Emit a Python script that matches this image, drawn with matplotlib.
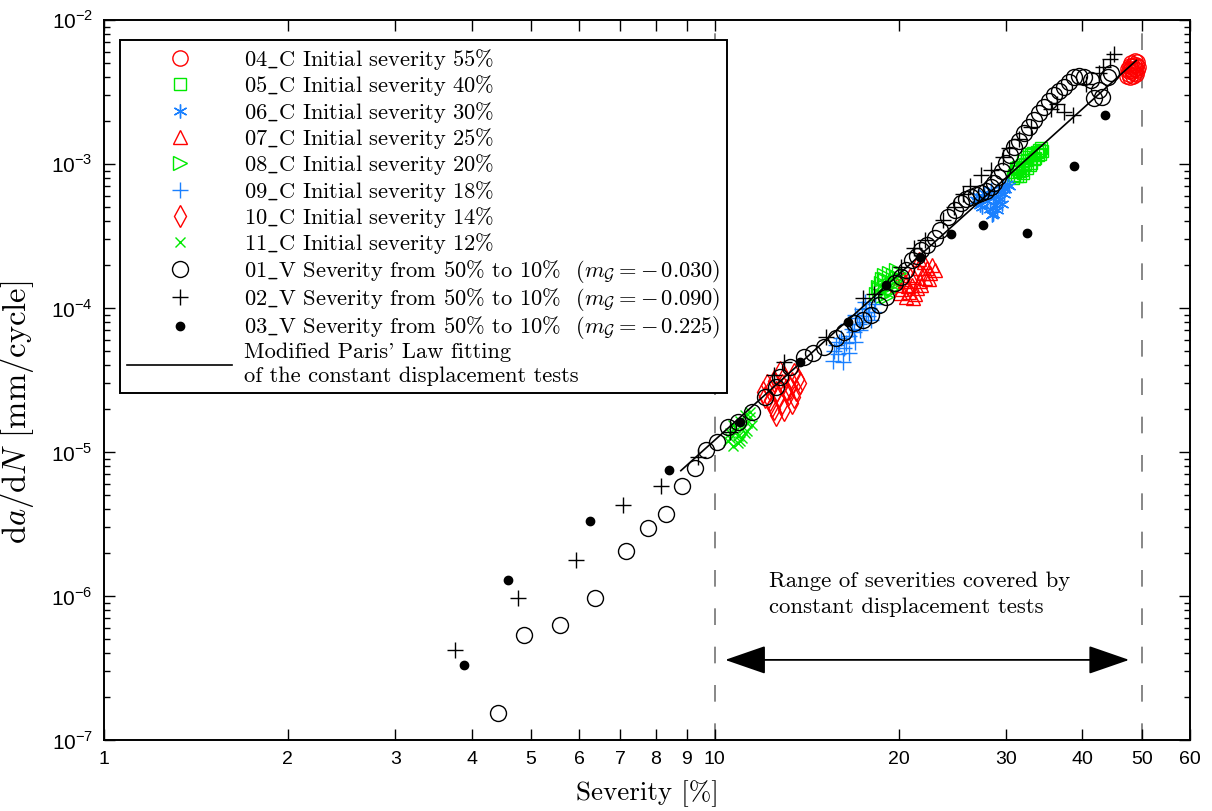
import numpy as np
import matplotlib.pyplot as plt
from matplotlib.ticker import FixedLocator, LogLocator, NullFormatter, NullLocator

plt.rcParams['font.family'] = 'cmr10'
plt.rcParams['mathtext.fontset'] = 'cm'
plt.rcParams['mathtext.rm'] = 'Liberation Sans'
plt.rcParams['axes.formatter.use_mathtext'] = True

# ---- constant displacement tests (severity %, da/dN mm/cycle) ----
c04_x = [47.3, 47.6, 47.9, 48.1, 48.3, 48.5, 48.6, 48.8, 49.0, 49.1, 47.8, 48.4, 48.9, 47.5,
         48.2, 49.2, 48.7, 47.7, 48.0, 49.3]
c04_y = [4.1e-3, 4.4e-3, 4.0e-3, 4.6e-3, 4.8e-3, 4.3e-3, 4.9e-3, 4.6e-3, 4.9e-3, 4.5e-3,
         4.8e-3, 4.1e-3, 4.2e-3, 4.6e-3, 4.4e-3, 5.1e-3, 5.2e-3, 4.2e-3, 5.0e-3, 4.7e-3]

c05_x = [30.8, 31.2, 31.6, 31.0, 31.5, 32.0, 31.4, 31.9, 32.4, 32.0, 32.5, 33.0, 32.5, 33.0,
         33.5, 33.2, 33.7, 34.1, 33.9, 34.3, 30.9, 31.3, 31.8, 32.2, 32.8, 33.3, 33.8, 34.2,
         31.1, 32.7]
c05_y = [8.0e-4, 8.3e-4, 8.2e-4, 8.8e-4, 9.0e-4, 8.7e-4, 9.6e-4, 9.8e-4, 9.4e-4, 1.05e-3,
         1.07e-3, 1.02e-3, 1.12e-3, 1.15e-3, 1.10e-3, 1.20e-3, 1.22e-3, 1.18e-3, 1.26e-3, 1.24e-3,
         8.4e-4, 9.2e-4, 9.1e-4, 1.0e-3, 9.9e-4, 1.08e-3, 1.16e-3, 1.30e-3, 9.4e-4, 1.18e-3]

c06_x = [26.8, 27.2, 27.5, 27.9, 28.2, 28.0, 28.5, 28.8, 28.6, 29.1, 29.3, 29.0, 29.6, 29.8,
         30.1, 29.5, 28.3, 27.6, 27.0, 27.4, 28.9, 29.9, 28.4, 30.3]
c06_y = [5.6e-4, 5.2e-4, 5.9e-4, 5.5e-4, 4.9e-4, 6.2e-4, 5.8e-4, 5.2e-4, 4.5e-4, 6.4e-4,
         5.7e-4, 4.8e-4, 6.9e-4, 6.2e-4, 7.3e-4, 5.3e-4, 6.6e-4, 6.3e-4, 6.0e-4, 5.0e-4,
         5.5e-4, 6.7e-4, 4.4e-4, 7.0e-4]

c07_x = [19.9, 20.2, 20.5, 20.8, 20.6, 21.0, 21.2, 21.4, 21.1, 21.7, 21.9, 22.1, 22.3, 22.5,
         22.7, 22.0, 21.5, 20.9, 20.3, 20.7, 21.3, 21.8, 22.4, 22.9, 21.6, 20.1]
c07_y = [1.45e-4, 1.35e-4, 1.55e-4, 1.30e-4, 1.20e-4, 1.45e-4, 1.65e-4, 1.38e-4, 1.18e-4,
         1.55e-4, 1.75e-4, 1.62e-4, 1.90e-4, 1.75e-4, 2.0e-4, 2.1e-4, 1.9e-4, 1.7e-4,
         1.6e-4, 1.42e-4, 1.25e-4, 1.45e-4, 1.6e-4, 1.85e-4, 2.2e-4, 1.28e-4]

c08_x = [18.4, 18.6, 18.8, 18.7, 19.0, 19.2, 19.0, 19.3, 19.5, 19.3, 19.6, 19.8, 19.9, 18.9,
         18.5, 19.1, 19.4, 19.7, 20.0, 18.8]
c08_y = [1.25e-4, 1.35e-4, 1.22e-4, 1.48e-4, 1.40e-4, 1.30e-4, 1.60e-4, 1.55e-4, 1.45e-4,
         1.75e-4, 1.70e-4, 1.85e-4, 1.62e-4, 1.70e-4, 1.4e-4, 1.2e-4, 1.35e-4, 1.55e-4,
         1.75e-4, 1.58e-4]

c09_x = [15.6, 15.9, 16.2, 15.8, 16.3, 16.6, 16.1, 16.6, 17.0, 16.8, 17.3, 17.5, 17.1, 17.8,
         17.4, 17.9, 18.2, 17.6, 16.5, 18.0, 15.7, 16.0, 16.4, 16.9, 17.2, 17.7, 18.3, 17.0]
c09_y = [4.3e-5, 4.8e-5, 4.2e-5, 5.5e-5, 5.3e-5, 4.9e-5, 6.2e-5, 6.4e-5, 5.8e-5, 7.2e-5,
         7.0e-5, 8.0e-5, 8.5e-5, 8.8e-5, 9.8e-5, 1.0e-4, 9.4e-5, 1.1e-4, 7.8e-5, 8.2e-5,
         5.0e-5, 5.8e-5, 5.7e-5, 6.8e-5, 7.8e-5, 9.4e-5, 1.06e-4, 9.0e-5]

c10_x = [12.0, 12.3, 12.5, 12.6, 12.2, 12.6, 12.9, 13.0, 12.5, 12.9, 13.2, 13.4, 13.0, 13.4,
         13.6, 13.5, 13.7, 12.8, 12.1, 12.4, 12.7, 13.1, 13.3, 13.8, 12.3, 13.5]
c10_y = [2.6e-5, 2.3e-5, 2.0e-5, 1.8e-5, 2.9e-5, 2.6e-5, 2.2e-5, 1.95e-5, 3.1e-5, 2.9e-5,
         2.5e-5, 2.2e-5, 3.3e-5, 3.0e-5, 2.7e-5, 3.5e-5, 3.2e-5, 3.6e-5, 2.4e-5, 2.1e-5,
         2.4e-5, 2.7e-5, 2.8e-5, 3.0e-5, 2.7e-5, 2.4e-5]

c11_x = [10.5, 10.7, 10.9, 10.6, 10.9, 11.1, 10.8, 11.1, 11.3, 11.0, 11.3, 11.5, 11.2, 11.4,
         11.0, 10.6, 11.2, 10.8, 11.4, 10.7]
c11_y = [1.2e-5, 1.1e-5, 1.15e-5, 1.35e-5, 1.3e-5, 1.25e-5, 1.5e-5, 1.45e-5, 1.4e-5, 1.65e-5,
         1.6e-5, 1.55e-5, 1.8e-5, 1.75e-5, 1.2e-5, 1.25e-5, 1.35e-5, 1.4e-5, 1.9e-5, 1.55e-5]

# ---- variable displacement tests ----
v01_x = [4.41, 4.88, 5.57, 6.36, 7.15, 7.77, 8.32, 8.83, 9.28, 9.67, 10.1, 10.5, 10.9, 11.5,
         12.1, 12.6, 12.8, 13.3, 14.0, 14.5, 15.1, 15.8, 16.3, 16.9, 17.5, 18.0, 18.6, 19.1,
         19.7, 20.2, 20.6, 21.0, 21.4, 21.8, 22.3, 22.9, 23.4, 24.1, 24.7, 25.3, 25.8, 26.3,
         26.8, 27.3, 27.8, 28.3, 28.7, 29.1, 29.5, 30.0, 30.4, 30.9, 31.5, 32.1, 32.7, 33.3,
         34.0, 34.6, 35.2, 35.9, 36.6, 37.3, 38.0, 38.8, 39.5, 40.3, 41.3, 42.5, 41.8, 43.0,
         44.1, 44.6]
v01_y = [1.54e-7, 5.4e-7, 6.3e-7, 9.7e-7, 2.05e-6, 2.96e-6, 3.7e-6, 5.8e-6, 7.7e-6, 1.03e-5,
         1.17e-5, 1.49e-5, 1.61e-5, 1.9e-5, 2.41e-5, 2.83e-5, 3.32e-5, 3.89e-5, 4.57e-5, 4.87e-5,
         5.36e-5, 6.2e-5, 6.8e-5, 7.9e-5, 8.3e-5, 8.9e-5, 1.05e-4, 1.19e-4, 1.49e-4, 1.64e-4,
         1.85e-4, 2.15e-4, 2.3e-4, 2.53e-4, 2.75e-4, 3.06e-4, 3.5e-4, 4.28e-4, 4.8e-4, 5.36e-4,
         5.7e-4, 5.9e-4, 6.1e-4, 6.3e-4, 6.5e-4, 6.9e-4, 7.4e-4, 8.1e-4, 9.0e-4, 1.02e-3,
         1.15e-3, 1.31e-3, 1.45e-3, 1.64e-3, 1.82e-3, 2.02e-3, 2.25e-3, 2.49e-3, 2.75e-3, 3.01e-3,
         3.2e-3, 3.43e-3, 3.7e-3, 4.0e-3, 4.1e-3, 4.0e-3, 3.83e-3, 3.27e-3, 2.87e-3, 2.9e-3,
         4.0e-3, 4.3e-3]

v02_x = [3.75, 4.77, 5.92, 7.07, 8.16, 9.38, 10.6, 12.5, 13.0, 15.2, 17.5, 18.2, 20.2, 21.2,
         22.1, 23.6, 24.6, 25.5, 26.2, 27.3, 28.3, 29.7, 30.3, 31.5, 33.0, 35.5, 36.4, 37.3,
         38.6, 40.5, 42.5, 43.3, 44.4, 45.0]
v02_y = [4.2e-7, 9.7e-7, 1.78e-6, 4.3e-6, 5.8e-6, 9.2e-6, 1.38e-5, 3.4e-5, 4.2e-5, 6.3e-5,
         1.17e-4, 1.25e-4, 1.93e-4, 2.6e-4, 2.97e-4, 4.1e-4, 5.0e-4, 6.2e-4, 7.0e-4, 8.4e-4,
         9.1e-4, 1.12e-3, 1.29e-3, 1.5e-3, 1.8e-3, 2.4e-3, 2.6e-3, 2.3e-3, 2.19e-3, 3.6e-3,
         4.3e-3, 4.7e-3, 5.4e-3, 5.8e-3]

v03_x = [3.88, 4.59, 6.24, 8.41, 10.99, 13.8, 16.5, 19.1, 21.7, 24.4, 27.5, 32.5, 38.8, 43.6]
v03_y = [3.3e-7, 1.29e-6, 3.32e-6, 7.5e-6, 1.61e-5, 4.2e-5, 8.0e-5, 1.45e-4, 2.26e-4,
         3.27e-4, 3.77e-4, 3.3e-4, 9.7e-4, 2.19e-3]

# modified Paris law fit (da/dN = C * S^m)
paris_C = 1.83e-9
paris_m = 3.82
fit_range = [8.8, 49.0]

x_ticks = [1, 2, 3, 4, 5, 6, 7, 8, 9, 10, 20, 30, 40, 50, 60]
y_ticks = [1e-7, 1e-6, 1e-5, 1e-4, 1e-3, 1e-2]
y_ticklabels = ['$10^{-7}$', '$10^{-6}$', '$10^{-5}$', '$10^{-4}$', '$10^{-3}$', '$10^{-2}$']

red = '#ff0000'
green = '#00ea00'
blue = '#1a80ff'

fig = plt.figure(figsize=(12.12, 8.11), dpi=100)
ax = fig.add_axes([104 / 1212, 1 - 740 / 811, 1086 / 1212, 720 / 811])
ax.set_xscale('log')
ax.set_yscale('log')

ax.axvline(10, color='0.45', lw=1.2, dashes=(10, 13), zorder=1)
ax.axvline(50, color='0.45', lw=1.2, dashes=(10, 13), zorder=1)

kw = dict(ls='none', mfc='none', mew=1.0)
ax.plot(c04_x, c04_y, marker='o', ms=11, mec=red, label='04$\\_$C Initial severity 55%', **kw)
ax.plot(c05_x, c05_y, marker='s', ms=8, mec=green, label='05$\\_$C Initial severity 40%', **kw)
ax.plot(c06_x, c06_y, marker=(6, 2, 0), ms=10, mec=blue, label='06$\\_$C Initial severity 30%', **kw)
ax.plot(c07_x, c07_y, marker='^', ms=10, mec=red, label='07$\\_$C Initial severity 25%', **kw)
ax.plot(c08_x, c08_y, marker='>', ms=10, mec=green, label='08$\\_$C Initial severity 20%', **kw)
ax.plot(c09_x, c09_y, marker='+', ms=11, mec=blue, label='09$\\_$C Initial severity 18%', **kw)
ax.plot(c10_x, c10_y, marker='d', ms=11, mec=red, label='10$\\_$C Initial severity 14%', **kw)
ax.plot(c11_x, c11_y, marker='x', ms=7, mec=green, label='11$\\_$C Initial severity 12%', **kw)
ax.plot(v01_x, v01_y, marker='o', ms=11.5, mec='k',
        label='01$\\_$V Severity from 50% to 10%  $(m_{\\mathcal{G}} = -\\,0.030)$', **kw)
ax.plot(v02_x, v02_y, marker='+', ms=12, mec='k',
        label='02$\\_$V Severity from 50% to 10%  $(m_{\\mathcal{G}} = -\\,0.090)$', **kw)
ax.plot(v03_x, v03_y, ls='none', marker='o', ms=6, mfc='k', mec='k',
        label='03$\\_$V Severity from 50% to 10%  $(m_{\\mathcal{G}} = -\\,0.225)$')

sev_fit = np.logspace(np.log10(fit_range[0]), np.log10(fit_range[1]), 60)
ax.plot(sev_fit, paris_C * sev_fit ** paris_m, color='k', lw=1.2,
        label="Modified Paris' Law fitting\nof the constant displacement tests")

# double arrow + annotation
ax.annotate('', xy=(47.7, 3.6e-7), xytext=(10.4, 3.6e-7),
            arrowprops=dict(arrowstyle='<|-|>,head_length=2.6,head_width=0.9',
                            color='k', lw=1.3, shrinkA=0, shrinkB=0))
ax.text(12.26, 1.03e-6, 'Range of severities covered by\nconstant displacement tests',
        fontsize=16.4, ha='left', va='center', linespacing=1.45)

ax.set_xlim(1, 60)
ax.set_ylim(1e-7, 1e-2)

ax.xaxis.set_major_locator(FixedLocator(x_ticks))
ax.xaxis.set_minor_locator(NullLocator())
ax.set_xticklabels([str(t) for t in x_ticks], fontfamily='Liberation Sans', fontsize=14)
ax.yaxis.set_major_locator(FixedLocator(y_ticks))
ax.yaxis.set_minor_locator(LogLocator(base=10, subs=np.arange(2, 10)))
ax.yaxis.set_minor_formatter(NullFormatter())
ax.set_yticklabels(y_ticklabels, fontfamily='Liberation Sans', fontsize=15,
                   math_fontfamily='custom')

ax.tick_params(which='both', direction='in', top=True, right=True, width=1.0)
ax.tick_params(which='major', length=8, pad=8)
ax.tick_params(which='minor', length=4)
for s in ax.spines.values():
    s.set_linewidth(1.4)

ax.set_xlabel('Severity [%]', fontsize=19.5, labelpad=9)
ax.set_ylabel('d$a$/d$N$ [mm/cycle]', fontsize=23.5)
ax.yaxis.set_label_coords(-0.063, 0.455)

leg = ax.legend(loc='upper left', bbox_to_anchor=(0.0147, 0.972),
                borderaxespad=0, fontsize=16.2, numpoints=1, handlelength=4.7,
                handletextpad=0.5, labelspacing=0.06, borderpad=0.3,
                fancybox=False, framealpha=1, edgecolor='k')
leg.get_frame().set_linewidth(1.4)
for t in leg.get_texts():
    t.set_linespacing(1.3)

fig.savefig('out.png', dpi=100)
